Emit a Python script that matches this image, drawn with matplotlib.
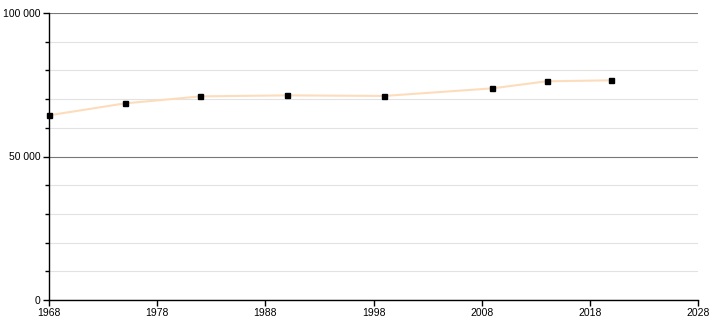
import matplotlib
matplotlib.use("Agg")
import matplotlib.pyplot as plt
from matplotlib.ticker import FuncFormatter, MultipleLocator

years = [1968, 1975, 1982, 1990, 1999, 2009, 2014, 2020]
population = [64350, 68500, 70950, 71300, 71100, 73750, 76200, 76550]
x_ticks = [1968, 1978, 1988, 1998, 2008, 2018, 2028]


def space_thousands(x, pos):
    return f"{x:,.0f}".replace(",", " ")


plt.rcParams["font.family"] = ["Liberation Sans", "DejaVu Sans"]

fig = plt.figure(figsize=(7.1, 3.2), dpi=100)
ax = fig.add_axes([49 / 710, 20 / 320, (698 - 49) / 710, (300 - 13) / 320])

ax.plot(years, population, color="#fddcbc", linewidth=1.5, zorder=2)
ax.plot(years, population, linestyle="none", marker="s", markersize=3.6,
        color="black", zorder=3, clip_on=False)

ax.set_xlim(x_ticks[0], x_ticks[-1])
ax.set_ylim(0, 100000)
ax.set_xticks(x_ticks)
ax.yaxis.set_major_locator(MultipleLocator(50000))
ax.yaxis.set_minor_locator(MultipleLocator(10000))
ax.yaxis.set_major_formatter(FuncFormatter(space_thousands))

ax.grid(axis="y", which="major", color="#777777", linewidth=0.8, zorder=1)
ax.grid(axis="y", which="minor", color="#e2e2e2", linewidth=0.8, zorder=1)
ax.set_axisbelow(True)

for side in ["top", "right"]:
    ax.spines[side].set_visible(False)
ax.spines["left"].set_linewidth(1)
ax.spines["bottom"].set_linewidth(1)

ax.tick_params(axis="both", which="major", length=4, width=1, labelsize=7.5, pad=2)
ax.tick_params(axis="y", which="minor", length=3, width=1)

fig.savefig("out.png", dpi=100)
